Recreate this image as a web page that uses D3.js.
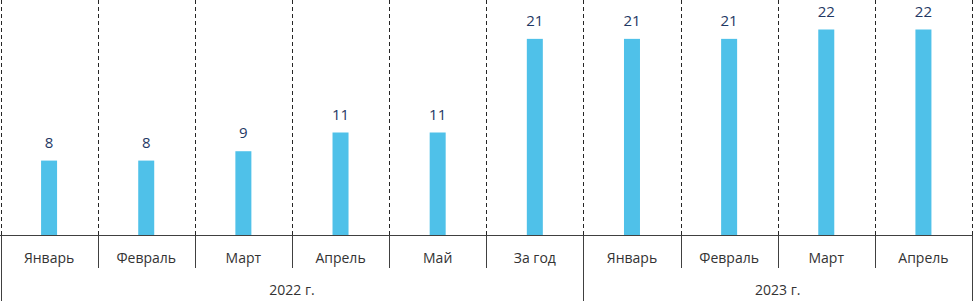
<!DOCTYPE html>
<html>
<head>
<meta charset="utf-8">
<script src="https://cdn.jsdelivr.net/npm/d3@7"></script>
<style>
  body { margin: 0; background: #fff; }
  svg text { font-family: "Open Sans", "Noto Sans", sans-serif; }
</style>
</head>
<body>
<svg id="chart" width="973" height="301"></svg>
<script>
// data
var categories = ["Январь", "Февраль", "Март", "Апрель", "Май", "За год", "Январь", "Февраль", "Март", "Апрель"];
var values = [8, 8, 9, 11, 11, 21, 21, 21, 22, 22];
var groups = [
  { label: "2022 г.", from: 0, to: 6 },
  { label: "2023 г.", from: 6, to: 10 }
];

var width = 973, height = 301;
var left = 0.5, right = 972, axisY = 235.5;

var svg = d3.select("#chart");

var idx = d3.range(categories.length);
var x = d3.scaleBand().domain(idx).range([left, right]).paddingInner(0).paddingOuter(0);
var y = d3.scaleLinear().domain([0, 22]).range([axisY, axisY - 206]);

var barW = 16;

// dashed separators above the axis
var edges = d3.range(categories.length + 1).map(function(i) {
  return i < categories.length ? x(i) : x(i - 1) + x.bandwidth();
});

svg.selectAll("line.grid")
  .data(edges)
  .enter().append("line")
  .attr("class", "grid")
  .attr("x1", function(d) { return Math.round(d) + 0.5; })
  .attr("x2", function(d) { return Math.round(d) + 0.5; })
  .attr("y1", 0)
  .attr("y2", axisY)
  .attr("stroke", "#262626")
  .attr("stroke-width", 1)
  .attr("stroke-dasharray", "4,3");

// bars
svg.selectAll("rect.bar")
  .data(values)
  .enter().append("rect")
  .attr("class", "bar")
  .attr("x", function(d, i) { return x(i) + x.bandwidth() / 2 - barW / 2; })
  .attr("y", function(d) { return y(d); })
  .attr("width", barW)
  .attr("height", function(d) { return axisY - y(d); })
  .attr("fill", "#4FC1E9");

// value labels
svg.selectAll("text.val")
  .data(values)
  .enter().append("text")
  .attr("class", "val")
  .attr("x", function(d, i) { return x(i) + x.bandwidth() / 2; })
  .attr("y", function(d) { return y(d) - 13; })
  .attr("text-anchor", "middle")
  .attr("font-size", 15)
  .attr("fill", "#1F3864")
  .text(function(d) { return d; });

// axis line
svg.append("line")
  .attr("x1", 0).attr("x2", right + 1)
  .attr("y1", axisY).attr("y2", axisY)
  .attr("stroke", "#404040");

// category tick separators
svg.selectAll("line.tick")
  .data(edges)
  .enter().append("line")
  .attr("class", "tick")
  .attr("x1", function(d) { return Math.round(d) + 0.5; })
  .attr("x2", function(d) { return Math.round(d) + 0.5; })
  .attr("y1", axisY)
  .attr("y2", function(d, i) {
    var isGroupEdge = groups.some(function(g) { return g.from === i || g.to === i; });
    return isGroupEdge ? height : 268;
  })
  .attr("stroke", "#404040");

// category labels
svg.selectAll("text.cat")
  .data(categories)
  .enter().append("text")
  .attr("class", "cat")
  .attr("x", function(d, i) { return x(i) + x.bandwidth() / 2; })
  .attr("y", 263)
  .attr("text-anchor", "middle")
  .attr("font-size", 14)
  .attr("fill", "#333333")
  .text(function(d) { return d; });

// group labels
svg.selectAll("text.grp")
  .data(groups)
  .enter().append("text")
  .attr("class", "grp")
  .attr("x", function(g) { return (edges[g.from] + edges[g.to]) / 2; })
  .attr("y", 295)
  .attr("text-anchor", "middle")
  .attr("font-size", 14)
  .attr("fill", "#333333")
  .text(function(g) { return g.label; });
</script>
</body>
</html>
